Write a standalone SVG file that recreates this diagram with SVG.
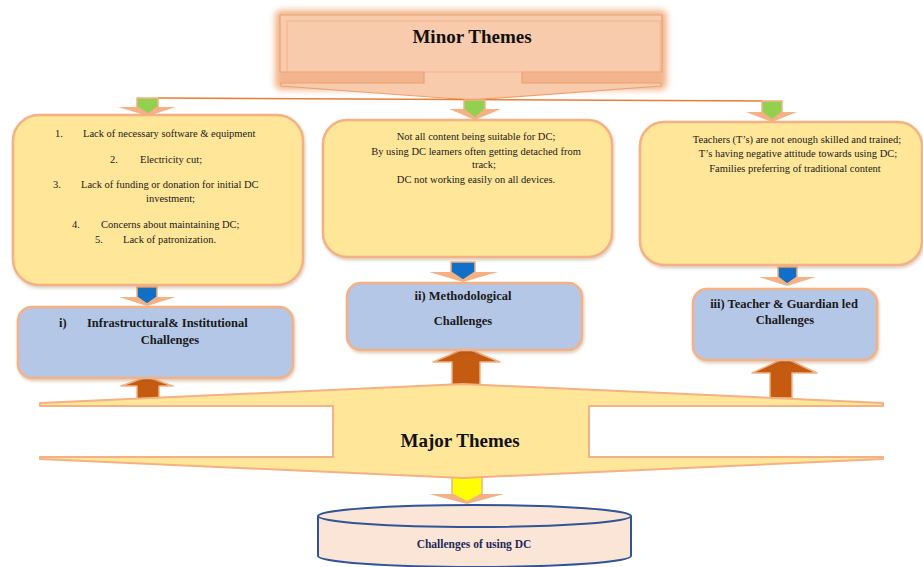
<svg xmlns="http://www.w3.org/2000/svg" width="923" height="567" viewBox="0 0 923 567">
  <style>
    .body { font-family: "Liberation Serif", "Times New Roman", serif; font-size: 10.5px; fill: #1a1a1a; }
    .head { font-family: "Liberation Serif", "Times New Roman", serif; font-size: 12.5px; font-weight: bold; fill: #1a1a1a; }
    .title { font-family: "Liberation Serif", "Times New Roman", serif; font-size: 19px; font-weight: bold; fill: #111; }
    .minor { fill: #ffe699; stroke: #f4b183; stroke-width: 2.5; }
    .major { fill: #b4c7e7; stroke: #f4b183; stroke-width: 2.5; }
    .wing { fill: #f4b183; }
    .edge { stroke: #f4b183; stroke-width: 1.5; stroke-linejoin: round; }
  </style>
  <defs>
    <filter id="glow" x="-10%" y="-30%" width="120%" height="160%">
      <feGaussianBlur stdDeviation="3"/>
    </filter>
    <filter id="shadow" x="-5%" y="-5%" width="112%" height="115%">
      <feDropShadow dx="1" dy="2" stdDeviation="1.5" flood-color="#8a5a30" flood-opacity="0.3"/>
    </filter>
  </defs>

  <rect width="923" height="567" fill="#ffffff"/>

  <!-- top callout: Minor Themes -->
  <g id="minor-themes">
    <rect x="275" y="10" width="392" height="80" rx="6" fill="#f0a878" opacity="0.85" filter="url(#glow)"/>
    <path d="M280,15 H662 V72 H522 V83 H661 V86 L471,100 L281,86 V83 H424 V72 H280 Z" fill="#f8cbad" stroke="#eea06e" stroke-width="1.2"/>
    <rect x="287" y="21" width="373" height="51" fill="none" stroke="#f2b48c" stroke-width="1"/>
    <text class="title" x="472" y="43" text-anchor="middle">Minor Themes</text>
  </g>

  <!-- connectors -->
  <g id="connectors">
    <line x1="158" y1="98" x2="765" y2="101" stroke="#ed7d31" stroke-width="1.6"/>

    <!-- green arrows into the minor theme boxes -->
    <polygon class="wing" points="118,107 176,107 148,116"/>
    <polygon class="edge" fill="#92d050" points="137,98 158,98 158,107 148,114 137,107"/>
    <polygon class="wing" points="449,109 501,109 475,120"/>
    <polygon class="edge" fill="#92d050" points="464,100 485,100 485,109 475,118 464,109"/>
    <polygon class="wing" points="746,112 797,112 772,122"/>
    <polygon class="edge" fill="#92d050" points="762,101 782,101 782,112 772,120 762,112"/>

    <!-- blue arrows into the major theme boxes -->
    <polygon class="wing" points="119,297 176,297 147,306"/>
    <polygon class="edge" fill="#1070c8" points="137,287 157,287 157,297 147,304 137,297"/>
    <polygon class="wing" points="429,272 498,272 463,282"/>
    <polygon class="edge" fill="#1070c8" points="451,262 475,262 475,272 463,280 451,272"/>
    <polygon class="wing" points="759,277 816,277 787,286"/>
    <polygon class="edge" fill="#1070c8" points="778,267 797,267 797,277 787,284 778,277"/>

    <!-- orange arrows rising from Major Themes -->
    <polygon class="edge" fill="#c55a11" points="147,377 173,386 159,386 159,399 137,399 137,386 121,386"/>
    <polygon class="edge" fill="#c55a11" points="466,348 500,362 480,362 480,385 452,385 452,362 433,362"/>
    <polygon class="edge" fill="#c55a11" points="785,358 817,373 792,373 792,398 770,398 770,373 752,373"/>

    <!-- yellow arrow down to the cylinder -->
    <polygon class="wing" points="429,494 504,494 467,504"/>
    <polygon class="edge" fill="#ffff00" points="452,477 482,477 482,494 467,502 452,494"/>
  </g>

  <!-- minor theme boxes -->
  <g id="minor-infrastructure">
    <rect class="minor" x="13" y="115" width="290" height="170" rx="26" filter="url(#shadow)"/>
    <text class="body" x="55" y="137">1.</text>
    <text class="body" x="83" y="137">Lack of necessary software &amp; equipment</text>
    <text class="body" x="110" y="163">2.</text>
    <text class="body" x="140" y="163">Electricity cut;</text>
    <text class="body" x="53" y="188">3.</text>
    <text class="body" x="81" y="188">Lack of funding or donation for initial DC</text>
    <text class="body" x="146" y="202">investment;</text>
    <text class="body" x="72" y="228">4.</text>
    <text class="body" x="101" y="228">Concerns about maintaining DC;</text>
    <text class="body" x="95" y="243">5.</text>
    <text class="body" x="123" y="243">Lack of patronization.</text>
  </g>

  <g id="minor-methodology">
    <rect class="minor" x="323" y="120" width="289" height="137" rx="24" filter="url(#shadow)"/>
    <text class="body" text-anchor="middle" x="476" y="140">Not all content being suitable for DC;</text>
    <text class="body" text-anchor="middle" x="476" y="155">By using DC learners often getting detached from</text>
    <text class="body" text-anchor="middle" x="484" y="168">track;</text>
    <text class="body" text-anchor="middle" x="476" y="183">DC not working easily on all devices.</text>
  </g>

  <g id="minor-teachers">
    <rect class="minor" x="640" y="122" width="282" height="143" rx="24" filter="url(#shadow)"/>
    <text class="body" text-anchor="middle" x="797" y="143">Teachers (T’s)  are not enough skilled and trained;</text>
    <text class="body" text-anchor="middle" x="798" y="157">T’s having negative attitude towards using DC;</text>
    <text class="body" text-anchor="middle" x="795" y="172">Families preferring of traditional content</text>
  </g>

  <!-- major theme boxes -->
  <g id="major-infrastructure">
    <rect class="major" x="18" y="307" width="275" height="71" rx="14" filter="url(#shadow)"/>
    <text class="head" x="59" y="327">i)</text>
    <text class="head" x="87" y="327">Infrastructural&amp; Institutional</text>
    <text class="head" text-anchor="middle" x="170" y="344">Challenges</text>
  </g>

  <g id="major-methodology">
    <rect class="major" x="347" y="283" width="235" height="67" rx="14" filter="url(#shadow)"/>
    <text class="head" text-anchor="middle" x="463" y="300">ii) Methodological</text>
    <text class="head" text-anchor="middle" x="463" y="325">Challenges</text>
  </g>

  <g id="major-teachers">
    <rect class="major" x="693" y="289" width="184" height="71" rx="14" filter="url(#shadow)"/>
    <text class="head" text-anchor="middle" x="784" y="308">iii) Teacher &amp; Guardian led</text>
    <text class="head" text-anchor="middle" x="785" y="324">Challenges</text>
  </g>

  <!-- Major Themes banner -->
  <g id="major-themes">
    <path d="M40,403 L463,384 L883,403 V406 H589 V457 H883 V459 L463,478 L40,459 V457 H333 V406 H40 Z" fill="#ffe699" stroke="#f4b183" stroke-width="2" stroke-linejoin="round"/>
    <text class="title" x="460" y="447" text-anchor="middle">Major Themes</text>
  </g>

  <!-- result cylinder -->
  <g id="challenges-of-using-dc">
    <path d="M318,516 V556 A156.5,11 0 0 0 631,556 V516" fill="#fbe5d6" stroke="#2f5597" stroke-width="2"/>
    <ellipse cx="474.5" cy="516" rx="156.5" ry="11" fill="#fbe5d6" stroke="#2f5597" stroke-width="2"/>
    <text class="head" x="474" y="548" text-anchor="middle" style="font-size:11.5px; fill:#1f2a5c">Challenges of using DC</text>
  </g>
</svg>
